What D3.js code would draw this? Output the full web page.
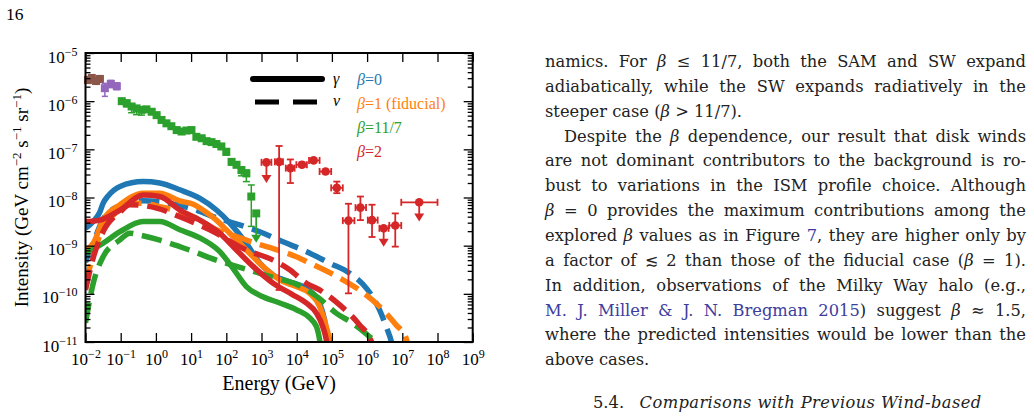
<!DOCTYPE html>
<html>
<head>
<meta charset="utf-8">
<script src="https://cdn.jsdelivr.net/npm/d3@7"></script>
<style>
body { margin: 0; background: #fff; }
svg { display: block; }
svg text { font-family: "Liberation Serif", "Times New Roman", serif; }
svg text.body { font-family: "DejaVu Serif", serif; font-size: 16.3px; fill: #222; white-space: pre; }
.tick text { font-size: 17px; fill: #000; }
</style>
</head>
<body>
<svg id="page" width="1034" height="418"></svg>
<script>
// all values are log10: energy in GeV, intensity in GeV cm^-2 s^-1 sr^-1
var xMajor = [-2, -1, 0, 1, 2, 3, 4, 5, 6, 7, 8, 9];
var yMajor = [-11, -10, -9, -8, -7, -6, -5];

var betaNames = ["β=0", "β=1 (fiducial)", "β=11/7", "β=2"];
var betaColors = ["#1f77b4", "#ff7f0e", "#2ca02c", "#d62728"];

// gamma (solid)
var gamma0 = [[-2,-8.64],[-1.78,-8.50],[-1.59,-8.30],[-1.50,-8.12],[-1.36,-7.97],[-1.02,-7.77],[-0.36,-7.67],[0.11,-7.70],[0.68,-7.84],[1.25,-8.02],[1.72,-8.26],[2.10,-8.53],[2.57,-8.95],[2.95,-9.36],[3.33,-9.61],[3.80,-9.75],[4.18,-9.85],[4.46,-9.99],[4.65,-10.19],[4.79,-10.54],[4.88,-10.95],[4.93,-11.2]];
var gamma1 = [[-2,-9.10],[-1.78,-8.95],[-1.50,-8.47],[-1.02,-8.15],[-0.36,-7.91],[0.11,-7.91],[0.68,-8.07],[1.06,-8.14],[1.44,-8.31],[1.72,-8.47],[2.00,-8.67],[2.57,-9.09],[3.04,-9.43],[3.52,-9.71],[3.99,-9.85],[4.37,-9.99],[4.65,-10.26],[4.84,-10.68],[4.93,-10.95],[4.98,-11.2]];
var gamma117 = [[-2,-9.16],[-1.50,-8.95],[-1.02,-8.71],[-0.36,-8.50],[0.11,-8.50],[0.68,-8.67],[1.25,-8.84],[1.81,-9.12],[2.19,-9.47],[2.57,-9.85],[3.04,-10.06],[3.52,-10.19],[3.99,-10.33],[4.37,-10.50],[4.56,-10.68],[4.65,-10.95],[4.70,-11.2]];
var gamma2 = [[-2,-8.50],[-1.59,-8.47],[-1.02,-8.26],[-0.36,-7.95],[0.11,-7.98],[0.68,-8.26],[1.25,-8.47],[1.81,-8.74],[2.29,-9.09],[2.76,-9.43],[3.33,-9.78],[3.89,-10.02],[4.27,-10.19],[4.56,-10.40],[4.74,-10.68],[4.84,-10.95],[4.89,-11.2]];

// neutrino (dashed)
var nu0 = [[-2,-9.34],[-1.78,-8.94],[-1.50,-8.45],[-1.02,-8.17],[-0.36,-8.07],[0.11,-8.09],[1.06,-8.24],[1.72,-8.42],[2.38,-8.57],[2.95,-8.71],[3.61,-8.92],[4.27,-9.12],[4.93,-9.36],[5.50,-9.57],[6.02,-9.92],[6.35,-10.33],[6.54,-10.68],[6.69,-11.0],[6.75,-11.2]];
var nu1 = [[-2,-9.81],[-1.78,-9.19],[-1.50,-8.63],[-1.02,-8.26],[-0.74,-8.12],[-0.36,-8.12],[0.11,-8.19],[1.06,-8.40],[1.72,-8.67],[2.29,-8.81],[2.95,-8.98],[3.33,-9.06],[3.99,-9.23],[4.37,-9.36],[5.22,-9.67],[5.78,-9.92],[6.35,-10.26],[6.82,-10.64],[7.11,-10.92],[7.2,-11.2]];
var nu117 = [[-2,-10.6],[-1.78,-9.78],[-1.50,-9.23],[-1.02,-8.88],[-0.74,-8.74],[-0.46,-8.78],[0.40,-8.95],[1.06,-9.12],[1.72,-9.30],[2.29,-9.43],[2.85,-9.55],[3.33,-9.66],[3.99,-9.80],[4.65,-10.10],[5.12,-10.40],[5.59,-10.61],[6.07,-10.89],[6.29,-11.04],[6.4,-11.2]];
var nu2 = [[-2,-9.92],[-1.78,-9.25],[-1.50,-8.71],[-1.02,-8.30],[-0.74,-8.15],[0.02,-8.22],[0.68,-8.40],[1.53,-8.67],[2.57,-9.09],[3.33,-9.30],[3.80,-9.50],[4.27,-9.78],[4.65,-9.92],[5.22,-10.23],[5.78,-10.64],[6.12,-10.99],[6.2,-11.2]];

var gammaCurves = [gamma0, gamma1, gamma117, gamma2];
var nuCurves = [nu0, nu1, nu117, nu2];

// measured backgrounds
var brownE = [-1.93, -1.82, -1.70, -1.59];
var brownI = [-5.56, -5.52, -5.58, -5.54];
var purpleE = [-1.45, -1.28, -1.11];
var purpleI = [-5.73, -5.64, -5.69];
var purpleLo = [-5.90, -5.72, -5.76];
var purpleHi = [-5.63, -5.57, -5.62];

var fermiE = [-0.97,-0.83,-0.69,-0.55,-0.41,-0.27,-0.12,0.02,0.16,0.30,0.44,0.59,0.73,0.87,1.01,1.15,1.30,1.44,1.58,1.72,1.86,2.00,2.15,2.29,2.43,2.57,2.71,2.85];
var fermiI = [-6.00,-6.04,-6.11,-6.15,-6.18,-6.17,-6.22,-6.29,-6.39,-6.46,-6.52,-6.60,-6.63,-6.61,-6.60,-6.74,-6.77,-6.83,-6.85,-6.89,-6.94,-7.05,-7.26,-7.32,-7.43,-7.50,-7.98,-8.33];
var fermiLo = [-6.04,-6.12,-6.24,-6.28,-6.29,-6.22,-6.26,-6.33,-6.43,-6.50,-6.56,-6.64,-6.67,-6.65,-6.64,-6.78,-6.81,-6.87,-6.90,-6.94,-7.00,-7.12,-7.32,-7.38,-7.55,-7.67,-8.60,-8.94];
var fermiHi = [-5.97,-6.00,-6.08,-6.12,-6.15,-6.14,-6.19,-6.26,-6.36,-6.43,-6.49,-6.57,-6.60,-6.58,-6.57,-6.70,-6.73,-6.79,-6.81,-6.85,-6.90,-7.00,-7.21,-7.27,-7.37,-7.43,-7.74,-8.33];
var fermiUL = [0,0,0,0,0,0,0,0,0,0,0,0,0,0,0,0,0,0,0,0,0,0,0,0,0,0,0,1];

var hiE = [3.14, 3.50, 3.82, 4.15, 4.48, 4.82, 5.14, 5.47, 5.81, 6.14, 6.47, 6.80, 7.48];
var hiElo = [3.00, 3.38, 3.69, 3.99, 4.35, 4.65, 4.98, 5.31, 5.67, 6.02, 6.35, 6.63, 6.97];
var hiEhi = [3.28, 3.61, 3.94, 4.29, 4.65, 4.98, 5.31, 5.64, 5.97, 6.30, 6.61, 6.97, 8.00];
var hiI = [-7.27, -7.26, -7.39, -7.32, -7.23, -7.46, -7.80, -8.48, -8.21, -8.47, -8.64, -8.58, -8.10];
var hiIlo = [-7.70, -9.92, -7.70, -7.37, -7.27, -7.50, -7.91, -9.99, -8.47, -8.82, -9.02, -9.02, -8.50];
var hiIhi = [-7.27, -6.93, -7.21, -7.27, -7.19, -7.42, -7.67, -8.13, -7.98, -8.15, -8.64, -8.33, -8.10];
var hiUL = [1, 0, 0, 0, 0, 0, 0, 0, 0, 0, 1, 0, 1];

var svg = d3.select('#page');
var plot = {left: 85.5, right: 472.7, top: 53, bottom: 342};

var x = d3.scaleLinear().domain([-2, 9]).range([plot.left, plot.right]);
var y = d3.scaleLinear().domain([-11, -5]).range([plot.bottom, plot.top]);

var yMinor = [];
yMajor.slice(0, -1).forEach(function(p) {
    for (var k = 2; k <= 9; k++) yMinor.push(p + Math.log10(k));
});

svg.append("clipPath").attr("id", "clip")
    .append("rect")
    .attr("x", plot.left).attr("y", plot.top)
    .attr("width", plot.right - plot.left).attr("height", plot.bottom - plot.top);

var line = d3.line()
    .x(d => x(d[0]))
    .y(d => y(d[1]))
    .curve(d3.curveMonotoneX);

var curves = svg.append("g").attr("clip-path", "url(#clip)");
for (var b = 0; b < 4; b++) {
    curves.append("path")
        .attr("d", line(gammaCurves[b]))
        .attr("fill", "none")
        .attr("stroke", betaColors[b])
        .attr("stroke-width", 5.5);
    curves.append("path")
        .attr("d", line(nuCurves[b]))
        .attr("fill", "none")
        .attr("stroke", betaColors[b])
        .attr("stroke-width", 5.5)
        .attr("stroke-dasharray", "20.5,8.8");
}

// data points
function errBar(g, xv, ylo, yhi, color, cap, w) {
    g.append("line").attr("x1", xv).attr("x2", xv).attr("y1", ylo).attr("y2", yhi)
        .attr("stroke", color).attr("stroke-width", w);
    [ylo, yhi].forEach(function(yy) {
        g.append("line").attr("x1", xv - cap).attr("x2", xv + cap).attr("y1", yy).attr("y2", yy)
            .attr("stroke", color).attr("stroke-width", w);
    });
}
function arrowDown(g, xv, ytop, ybot, color) {
    g.append("line").attr("x1", xv).attr("x2", xv).attr("y1", ytop).attr("y2", ybot - 6)
        .attr("stroke", color).attr("stroke-width", 1.8);
    g.append("path")
        .attr("d", "M" + (xv - 5) + "," + (ybot - 8) + "L" + (xv + 5) + "," + (ybot - 8) + "L" + xv + "," + ybot + "Z")
        .attr("fill", color);
}

var pts = svg.append("g");
brownE.forEach(function(e, i) {
    errBar(pts, x(e), y(brownI[i] - 0.07), y(brownI[i] + 0.07), "#8c564b", 3, 1.5);
    pts.append("rect").attr("x", x(e) - 4).attr("y", y(brownI[i]) - 4)
        .attr("width", 8).attr("height", 8).attr("fill", "#8c564b");
});
purpleE.forEach(function(e, i) {
    errBar(pts, x(e), y(purpleLo[i]), y(purpleHi[i]), "#9467bd", 3, 1.5);
    pts.append("rect").attr("x", x(e) - 4).attr("y", y(purpleI[i]) - 4)
        .attr("width", 8).attr("height", 8).attr("fill", "#9467bd");
});
fermiE.forEach(function(e, i) {
    var c = "#2ca02c";
    if (fermiUL[i]) {
        arrowDown(pts, x(e), y(fermiI[i]), y(fermiLo[i]), c);
    } else {
        errBar(pts, x(e), y(fermiLo[i]), y(fermiHi[i]), c, 3.5, 1.5);
    }
    pts.append("rect").attr("x", x(e) - 4).attr("y", y(fermiI[i]) - 4)
        .attr("width", 8).attr("height", 8).attr("fill", c);
});

hiE.forEach(function(e, i) {
    var c = "#d62728";
    var cx = x(e), cy = y(hiI[i]);
    pts.append("line").attr("x1", x(hiElo[i])).attr("x2", x(hiEhi[i])).attr("y1", cy).attr("y2", cy)
        .attr("stroke", c).attr("stroke-width", 1.8);
    [hiElo[i], hiEhi[i]].forEach(function(v) {
        pts.append("line").attr("x1", x(v)).attr("x2", x(v)).attr("y1", cy - 3.5).attr("y2", cy + 3.5)
            .attr("stroke", c).attr("stroke-width", 1.8);
    });
    if (hiUL[i]) {
        arrowDown(pts, cx, cy, y(hiIlo[i]), c);
    } else {
        errBar(pts, cx, y(hiIlo[i]), y(hiIhi[i]), c, 3.5, 1.8);
    }
    pts.append("circle").attr("cx", cx).attr("cy", cy).attr("r", 4.3).attr("fill", c);
});

// axes
function supLabel(sel) {
    sel.each(function(d) {
        var t = d3.select(this);
        t.text("");
        t.append("tspan").text("10");
        t.append("tspan").attr("dy", -7).style("font-size", "12px")
            .text(d < 0 ? "\u2212" + (-d) : "" + d);
    });
}

var gx = svg.append("g").attr("transform", "translate(0," + plot.bottom + ")")
    .call(d3.axisBottom(x).tickValues(xMajor).tickSize(-9).tickPadding(0));
gx.selectAll(".tick text").attr("y", 0).attr("dy", 23).call(supLabel);

svg.append("g").attr("transform", "translate(0," + plot.top + ")")
    .call(d3.axisTop(x).tickValues(xMajor).tickSize(-9).tickFormat(""));

var gy = svg.append("g").attr("transform", "translate(" + plot.left + ",0)")
    .call(d3.axisLeft(y).tickValues(yMajor).tickSize(-9).tickPadding(8));
gy.selectAll(".tick text").attr("dy", 9).call(supLabel);
svg.append("g").attr("transform", "translate(" + plot.left + ",0)")
    .call(d3.axisLeft(y).tickValues(yMinor).tickSize(-5).tickFormat(""));
svg.append("g").attr("transform", "translate(" + plot.right + ",0)")
    .call(d3.axisRight(y).tickValues(yMajor).tickSize(-9).tickFormat(""));
svg.append("g").attr("transform", "translate(" + plot.right + ",0)")
    .call(d3.axisRight(y).tickValues(yMinor).tickSize(-5).tickFormat(""));

svg.selectAll(".domain").remove();
svg.selectAll(".tick line").attr("stroke", "#000").attr("stroke-width", 1.3);
svg.selectAll("g").filter(function() { return this.getAttribute("font-family"); })
    .attr("font-family", null).attr("font-size", null);

svg.append("rect")
    .attr("x", plot.left).attr("y", plot.top)
    .attr("width", plot.right - plot.left).attr("height", plot.bottom - plot.top)
    .attr("fill", "none").attr("stroke", "#000").attr("stroke-width", 2);

// axis titles
svg.append("text")
    .attr("x", (plot.left + plot.right) / 2).attr("y", 390)
    .attr("text-anchor", "middle").style("font-size", "20px")
    .text("Energy (GeV)");

var yt = svg.append("text")
    .attr("transform", "translate(28," + ((plot.top + plot.bottom) / 2) + ") rotate(-90)")
    .attr("text-anchor", "middle").style("font-size", "19px");
[["Intensity (GeV cm", 0], ["\u22122", 1], [" s", 0], ["\u22121", 1], [" sr", 0], ["\u22121", 1], [")", 0]]
    .forEach(function(s, i, arr) {
        var sp = yt.append("tspan").text(s[0]);
        if (s[1]) sp.attr("dy", -7).style("font-size", "13px");
        else if (i > 0 && arr[i - 1][1]) sp.attr("dy", 7);
    });

// legend
var lg = svg.append("g");
lg.append("line").attr("x1", 253).attr("x2", 322).attr("y1", 79).attr("y2", 79)
    .attr("stroke", "#000").attr("stroke-width", 6).attr("stroke-linecap", "round");
lg.append("line").attr("x1", 255).attr("x2", 317).attr("y1", 102).attr("y2", 102)
    .attr("stroke", "#000").attr("stroke-width", 5).attr("stroke-dasharray", "24,14");
lg.append("text").attr("x", 333).attr("y", 84).style("font-size", "16px").style("font-style", "italic").text("γ");
lg.append("text").attr("x", 333).attr("y", 106).style("font-size", "16px").style("font-style", "italic").text("ν");
betaNames.forEach(function(n, i) {
    var t = lg.append("text").attr("x", 357).attr("y", 85 + i * 24)
        .style("font-size", "16px").attr("fill", betaColors[i]);
    t.append("tspan").style("font-style", "italic").text("β");
    t.append("tspan").text(n.slice(1));
});

// page number
svg.append("text").attr("x", 6).attr("y", 20).style("font-size", "17.5px").text("16");

// body text
var linkColor = "#3d3d9e";
var textLeft = 545, textRight = 1026, lineY0 = 67, lineStep = 24.85;
var bodyLines = [
    {segs: [["namics. For "], ["β", "m"], [" ≤ 11/7, both the SAM and SW expand"]], just: true},
    {segs: [["adiabatically, while the SW expands radiatively in the"]], just: true},
    {segs: [["steeper case ("], ["β", "m"], [" > 11/7)."]]},
    {segs: [["Despite the "], ["β", "m"], [" dependence, our result that disk winds"]], just: true, indent: 19},
    {segs: [["are not dominant contributors to the background is ro-"]], just: true},
    {segs: [["bust to variations in the ISM profile choice. Although"]], just: true},
    {segs: [["β", "m"], [" = 0 provides the maximum contributions among the"]], just: true},
    {segs: [["explored "], ["β", "m"], [" values as in Figure "], ["7", "l"], [", they are higher only by"]], just: true},
    {segs: [["a factor of ≲ 2 than those of the fiducial case ("], ["β", "m"], [" = 1)."]], just: true},
    {segs: [["In addition, observations of the Milky Way halo (e.g.,"]], just: true},
    {segs: [["M. J. Miller & J. N. Bregman 2015", "l"], [") suggest "], ["β", "m"], [" ≈ 1.5,"]], just: true},
    {segs: [["where the predicted intensities would be lower than the"]], just: true},
    {segs: [["above cases."]]}
];

bodyLines.forEach(function(ln, i) {
    var x0 = textLeft + (ln.indent || 0);
    var t = svg.append("text").attr("class", "body").attr("x", x0).attr("y", lineY0 + i * lineStep);
    ln.segs.forEach(function(s) {
        var sp = t.append("tspan").text(s[0]);
        if (s[1] == "m") sp.style("font-style", "italic");
        if (s[1] == "l") sp.attr("fill", linkColor);
    });
    if (ln.just) {
        var str = ln.segs.map(s => s[0]).join("");
        var n = (str.match(/ /g) || []).length;
        var w = t.node().getComputedTextLength();
        var ws = (textRight - x0 - w) / n;
        t.style("word-spacing", ws + "px");
        var w2 = t.node().getComputedTextLength();
        t.style("word-spacing", (ws + (textRight - x0 - w2) / n) + "px");
    }
});

var hd = svg.append("text").attr("class", "body").attr("x", 593).attr("y", 408);
hd.append("tspan").text("5.4.   ");
hd.append("tspan").style("font-style", "italic").style("letter-spacing", "0.4px")
    .text("Comparisons with Previous Wind-based");
</script>
</body>
</html>
